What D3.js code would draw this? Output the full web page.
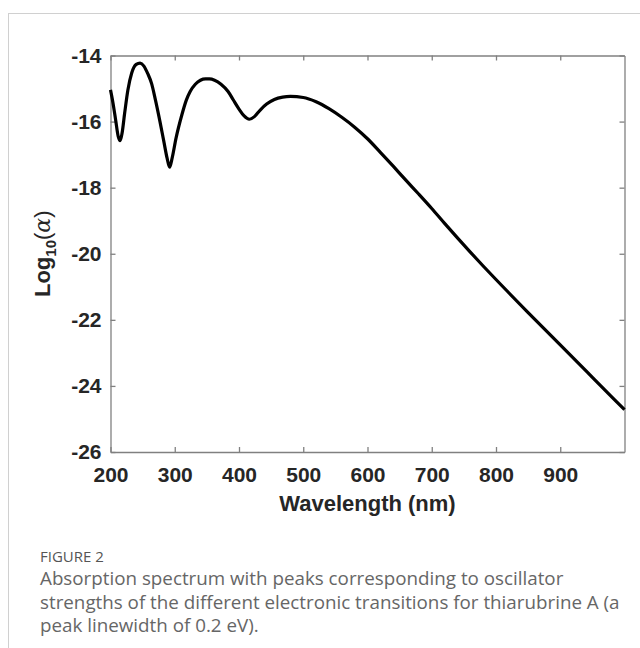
<!DOCTYPE html>
<html>
<head>
<meta charset="utf-8">
<script src="https://cdn.jsdelivr.net/npm/d3@7"></script>
<style>
  body { margin: 0; background: #fff; }
  svg text { font-family: "Liberation Sans", Arial, sans-serif; }
</style>
</head>
<body>
<script>
// wavelength (nm) and log10(alpha)
const wavelength = [200, 204, 208, 212, 215, 218, 222, 227, 233, 240, 246, 252, 258, 264, 270, 277, 283, 288, 292, 296,
                    302, 311, 318, 324, 332, 340, 348, 354, 362, 372, 383, 391, 400, 408, 416, 424, 433, 443, 455, 468,
                    480, 500, 520, 540, 560, 580, 600, 620, 640, 660, 680, 700, 720, 740, 760, 780, 800, 850, 900, 950, 1000];
const logAlpha = [-15.04, -15.45, -15.95, -16.45, -16.58, -16.35, -15.75, -15.05, -14.53, -14.27, -14.23, -14.32, -14.55, -14.85, -15.35, -16.0, -16.6, -17.1, -17.38, -17.1,
                  -16.5, -15.8, -15.35, -15.09, -14.87, -14.75, -14.71, -14.71, -14.75, -14.87, -15.09, -15.34, -15.62, -15.83, -15.93, -15.85, -15.65, -15.47, -15.33, -15.26,
                  -15.24, -15.27, -15.40, -15.61, -15.87, -16.17, -16.52, -16.93, -17.35, -17.78, -18.20, -18.63, -19.08, -19.52, -19.95, -20.37, -20.78, -21.78, -22.76, -23.74, -24.72];
const xTicks = [200, 300, 400, 500, 600, 700, 800, 900];
const yTicks = [-26, -24, -22, -20, -18, -16, -14];
const caption = ["Absorption spectrum with peaks corresponding to oscillator",
                 "strengths of the different electronic transitions for thiarubrine A (a",
                 "peak linewidth of 0.2 eV)."];

const w = 640, h = 648;
const mLeft = 110.5, mRight = 624.5, mTop = 55.5, mBottom = 452;

const svg = d3.select('body').append('svg')
  .attr('width', w)
  .attr('height', h);

// light frame around the figure
svg.append('rect')
  .attr('x', 8.5).attr('y', 13.5)
  .attr('width', 700).attr('height', 700)
  .attr('fill', 'none')
  .attr('stroke', '#d0d0d0');

const x = d3.scaleLinear().domain([200, 1000]).range([mLeft, mRight]);
const y = d3.scaleLinear().domain([-26, -14]).range([mBottom, mTop]);

const axColor = '#808080';
const tickLen = 5;

// bottom & top axes (ticks inward)
const gx = svg.append('g').attr('transform', `translate(0,${mBottom})`)
  .call(d3.axisBottom(x).tickValues(xTicks).tickSizeInner(-tickLen).tickSizeOuter(0).tickPadding(15));
svg.append('g').attr('transform', `translate(0,${mTop})`)
  .call(d3.axisTop(x).tickValues(xTicks).tickSizeInner(-tickLen).tickSizeOuter(0).tickFormat(''));
const gy = svg.append('g').attr('transform', `translate(${mLeft},0)`)
  .call(d3.axisLeft(y).tickValues(yTicks).tickSizeInner(-tickLen).tickSizeOuter(0).tickPadding(9).tickFormat(d => String(d)));
svg.append('g').attr('transform', `translate(${mRight},0)`)
  .call(d3.axisRight(y).tickValues(yTicks).tickSizeInner(-tickLen).tickSizeOuter(0).tickFormat(''));

svg.selectAll('.domain').attr('stroke', axColor).attr('stroke-width', 1.3);
svg.selectAll('.tick line').attr('stroke', axColor).attr('stroke-width', 1.3);
svg.selectAll('.tick text')
  .attr('fill', '#262626')
  .style('font-size', '21px')
  .style('font-weight', 'bold')
  .style('font-family', '"Liberation Sans", Arial, sans-serif');
gx.selectAll('.tick text').attr('dy', '0.71em');

// curve
const line = d3.line()
  .x((d, i) => x(wavelength[i]))
  .y(d => y(d))
  .curve(d3.curveMonotoneX);
svg.append('path')
  .datum(logAlpha)
  .attr('d', line)
  .attr('fill', 'none')
  .attr('stroke', '#000')
  .attr('stroke-width', 3.2)
  .attr('stroke-linejoin', 'round');

// axis labels
svg.append('text')
  .attr('x', (mLeft + mRight) / 2).attr('y', 511)
  .attr('text-anchor', 'middle')
  .attr('fill', '#262626')
  .style('font-size', '22px').style('font-weight', 'bold')
  .text('Wavelength (nm)');

const yl = svg.append('text')
  .attr('transform', `translate(50,${(mTop + mBottom) / 2}) rotate(-90)`)
  .attr('text-anchor', 'middle')
  .attr('fill', '#262626')
  .style('font-size', '22px').style('font-weight', 'bold');
yl.append('tspan').text('Log');
yl.append('tspan').attr('dy', 6).style('font-size', '15px').text('10');
yl.append('tspan').attr('dy', -6).style('font-weight', 'normal').text('(');
yl.append('tspan').style('font-style', 'italic').style('font-weight', 'normal')
  .style('font-family', '"DejaVu Serif", serif').text('α');
yl.append('tspan').style('font-weight', 'normal').text(')');

// caption
svg.append('text')
  .attr('x', 40).attr('y', 562)
  .attr('fill', '#555')
  .style('font-family', '"Open Sans", sans-serif')
  .style('font-size', '15px')
  .text('FIGURE 2');
svg.selectAll('.cap')
  .data(caption)
  .enter()
  .append('text')
  .attr('class', 'cap')
  .attr('x', 40)
  .attr('y', (d, i) => 585 + i * 23.5)
  .attr('fill', '#666')
  .style('font-family', '"Open Sans", sans-serif')
  .style('font-size', '18.8px')
  .text(d => d);
</script>
</body>
</html>
